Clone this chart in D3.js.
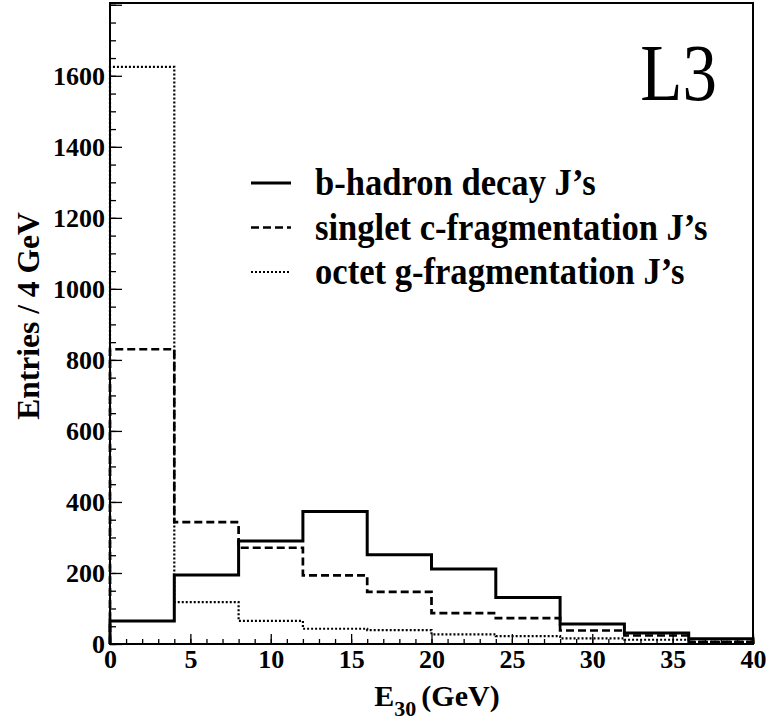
<!DOCTYPE html>
<html>
<head>
<meta charset="utf-8">
<script src="https://cdn.jsdelivr.net/npm/d3@7"></script>
<style>
  body { margin: 0; background: #fff; }
  text { font-family: "Liberation Serif", "Times New Roman", serif; }
</style>
</head>
<body>
<div id="chart"></div>
<script>
// histogram data: E30 bins of 4 GeV
var binEdges = [0, 4, 8, 12, 16, 20, 24, 28, 32, 36, 40];
var bHadron  = [65, 194, 290, 373, 251, 211, 131, 56, 31, 15];
var singletC = [830, 343, 271, 193, 147, 87, 73, 38, 24, 6];
var octetG   = [1625, 118, 65, 43, 39, 27, 22, 16, 12, 6];

var seriesNames = ["b-hadron decay J\u2019s", "singlet c-fragmentation J\u2019s", "octet g-fragmentation J\u2019s"];
var xMajorTicks = [0, 5, 10, 15, 20, 25, 30, 35, 40];
var yMajorTicks = [0, 200, 400, 600, 800, 1000, 1200, 1400, 1600, 1800];

var svgWidth = 769, svgHeight = 723;
var margin = { top: 3, right: 16, bottom: 79, left: 110 };
var width = svgWidth - margin.left - margin.right;
var height = svgHeight - margin.top - margin.bottom;

var svg = d3.select("#chart").append("svg")
  .attr("width", svgWidth)
  .attr("height", svgHeight);

var chartGroup = svg.append("g")
  .attr("transform", `translate(${margin.left}, ${margin.top})`);

// Scales
// ==============================
var x = d3.scaleLinear().domain([0, 40]).range([0, width]);
var y = d3.scaleLinear().domain([0, 1805]).range([height, 0]);

// Axes (ticks drawn inside the frame)
// ==============================
var xMinor = d3.range(0, 41, 1);
var yMinor = d3.range(0, 1801, 50);

chartGroup.append("g")
  .attr("transform", `translate(0, ${height})`)
  .call(d3.axisBottom(x).tickValues(xMinor).tickSize(-5).tickFormat(""))
  .call(g => g.select(".domain").remove());

var xAxis = chartGroup.append("g")
  .attr("transform", `translate(0, ${height})`)
  .call(d3.axisBottom(x).tickValues(xMajorTicks).tickSize(-10).tickPadding(5).tickFormat(d3.format("d")));
xAxis.select(".domain").remove();

chartGroup.append("g")
  .call(d3.axisLeft(y).tickValues(yMinor).tickSize(-6).tickFormat(""))
  .call(g => g.select(".domain").remove());

var yAxis = chartGroup.append("g")
  .call(d3.axisLeft(y).tickValues(yMajorTicks).tickSize(-12).tickPadding(5)
    .tickFormat(d => d === 1800 ? "" : d));
yAxis.select(".domain").remove();

chartGroup.selectAll(".tick line").attr("stroke", "#000").attr("stroke-width", 1.3);
chartGroup.selectAll(".tick text")
  .attr("font-family", "Liberation Serif")
  .attr("font-weight", "bold")
  .attr("font-size", 26)
  .attr("fill", "#000");
xAxis.selectAll(".tick text").attr("dy", "0.72em");

// Histograms
// ==============================
function stepPoints(vals) {
  var pts = [[0, 0]];
  vals.forEach(function(v, i) { pts.push([binEdges[i], v]); });
  pts.push([binEdges[binEdges.length - 1], vals[vals.length - 1]]);
  pts.push([binEdges[binEdges.length - 1], 0]);
  return pts;
}

var line = d3.line()
  .x(d => x(d[0]))
  .y(d => y(d[1]))
  .curve(d3.curveStepAfter);

var styles = [
  { data: bHadron,  width: 3,   dash: null },
  { data: singletC, width: 2.7, dash: "8,4" },
  { data: octetG,   width: 2.2, dash: "2,2" }
];

styles.slice().reverse().forEach(function(s) {
  chartGroup.append("path")
    .attr("d", line(stepPoints(s.data)))
    .attr("fill", "none")
    .attr("stroke", "#000")
    .attr("stroke-width", s.width)
    .attr("stroke-dasharray", s.dash);
});

// Frame
chartGroup.append("rect")
  .attr("width", width)
  .attr("height", height)
  .attr("fill", "none")
  .attr("stroke", "#000")
  .attr("stroke-width", 2);

// Legend
// ==============================
var legend = chartGroup.append("g").attr("transform", "translate(141, 180)");
styles.forEach(function(s, i) {
  var row = legend.append("g").attr("transform", `translate(0, ${i * 44.5})`);
  row.append("line")
    .attr("x1", 0).attr("x2", 40)
    .attr("stroke", "#000")
    .attr("stroke-width", s.width)
    .attr("stroke-dasharray", s.dash);
  row.append("text")
    .attr("transform", "translate(64, 12) scale(1, 1.1)")
    .attr("font-weight", "bold")
    .attr("font-size", 34.6)
    .text(seriesNames[i]);
});

// L3 label
chartGroup.append("text")
  .attr("transform", `translate(${width - 36}, 97) scale(1, 1.15)`)
  .attr("text-anchor", "end")
  .attr("font-size", 69)
  .text("L3");

// Axis titles
// ==============================
svg.append("text")
  .attr("transform", "translate(39, 316) rotate(-90)")
  .attr("text-anchor", "middle")
  .attr("font-weight", "bold")
  .attr("font-size", 31.5)
  .text("Entries / 4 GeV");

var xTitle = svg.append("text")
  .attr("x", 437)
  .attr("y", 706)
  .attr("text-anchor", "middle")
  .attr("font-weight", "bold")
  .attr("font-size", 30);
xTitle.append("tspan").text("E");
xTitle.append("tspan").attr("font-size", 22).attr("dy", 10).text("30");
xTitle.append("tspan").attr("dy", -10).attr("dx", 5).text("(GeV)");
</script>
</body>
</html>
